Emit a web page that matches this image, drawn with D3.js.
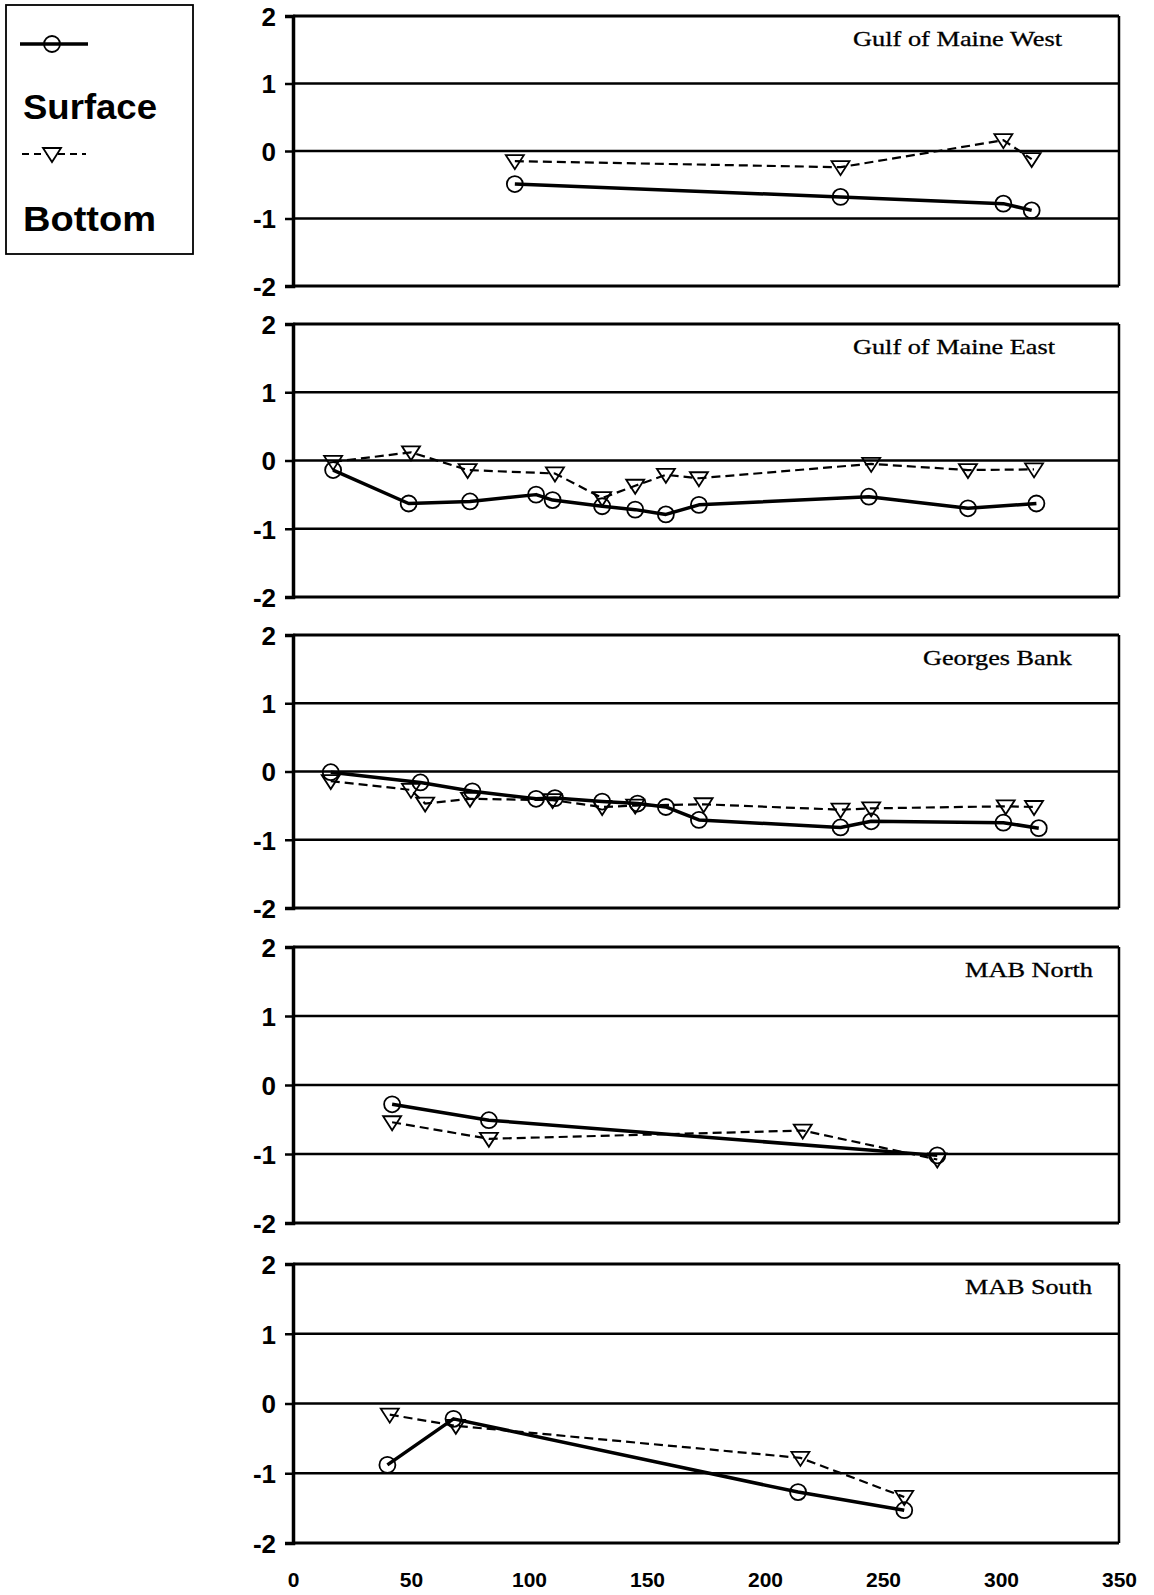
<!DOCTYPE html>
<html><head><meta charset="utf-8">
<script src="https://cdn.jsdelivr.net/npm/d3@7"></script>
<style>body{margin:0;background:#fff} svg{display:block}</style>
</head><body>
<svg id="c" width="1154" height="1595"></svg>
<script>
// ---------- data ----------
const regions = ["Gulf of Maine West","Gulf of Maine East","Georges Bank","MAB North","MAB South"];
const xTicks = [0,50,100,150,200,250,300,350];
const yTicks = [2,1,0,-1,-2];
const seriesNames = ["Surface","Bottom"];

const surfaceGMW = [[94,-0.49],[232,-0.68],[301,-0.78],[313,-0.88]];
const bottomGMW  = [[94,-0.15],[232,-0.24],[301,0.16],[313,-0.12]];
const surfaceGME = [[17,-0.14],[49,-0.63],[75,-0.60],[103,-0.50],[110,-0.58],[131,-0.67],[145,-0.72],[158,-0.79],[172,-0.65],[244,-0.53],[286,-0.70],[315,-0.63]];
const bottomGME  = [[17,-0.02],[50,0.12],[74,-0.14],[111,-0.19],[131,-0.55],[145,-0.37],[158,-0.21],[172,-0.26],[245,-0.05],[286,-0.14],[314,-0.13]];
const surfaceGB  = [[16,-0.01],[54,-0.16],[76,-0.29],[103,-0.40],[111,-0.39],[131,-0.44],[146,-0.47],[158,-0.52],[172,-0.71],[232,-0.82],[245,-0.73],[301,-0.75],[316,-0.83]];
const bottomGB   = [[16,-0.14],[50,-0.27],[56,-0.47],[75,-0.40],[110,-0.42],[131,-0.52],[145,-0.50],[174,-0.48],[232,-0.56],[245,-0.54],[302,-0.51],[314,-0.52]];
const surfaceMABN = [[42,-0.28],[83,-0.51],[273,-1.02]];
const bottomMABN  = [[42,-0.54],[83,-0.78],[216,-0.66],[273,-1.08]];
const surfaceMABS = [[40,-0.88],[68,-0.22],[214,-1.27],[259,-1.53]];
const bottomMABS  = [[41,-0.16],[69,-0.32],[215,-0.78],[259,-1.34]];

const surfaceAll = [surfaceGMW, surfaceGME, surfaceGB, surfaceMABN, surfaceMABS];
const bottomAll  = [bottomGMW, bottomGME, bottomGB, bottomMABN, bottomMABS];

// ---------- layout ----------
const panelTop    = [16, 324, 635, 947, 1264];
const panelBottom = [286, 597, 908, 1223, 1543];
const titleRight  = [1062, 1055, 1072, 1093, 1092];
const titleWidth  = [209, 202, 149, 128, 127];
const plotLeft = 293, plotRight = 1119;

const svg = d3.select("#c");
const x = d3.scaleLinear().domain([0,350]).range([plotLeft, plotRight]);
const sansBold = "'Liberation Sans', Arial, sans-serif";

const circleR = 8;
const triPath = "M-9,-6 L9,-6 L0,8 Z";

regions.forEach((name, i) => {
  const y = d3.scaleLinear().domain([-2,2]).range([panelBottom[i], panelTop[i]]);
  const g = svg.append("g");

  // gridlines
  g.selectAll("line.grid").data([1,0,-1]).join("line")
    .attr("x1", plotLeft).attr("x2", plotRight)
    .attr("y1", d => y(d)).attr("y2", d => y(d))
    .attr("stroke", "#000").attr("stroke-width", 2.4);

  // frame
  g.append("line").attr("x1", plotLeft).attr("x2", plotRight).attr("y1", y(2)).attr("y2", y(2))
    .attr("stroke","#000").attr("stroke-width",3);
  g.append("line").attr("x1", plotLeft).attr("x2", plotRight).attr("y1", y(-2)).attr("y2", y(-2))
    .attr("stroke","#000").attr("stroke-width",3);
  g.append("line").attr("x1", plotRight).attr("x2", plotRight).attr("y1", y(2)).attr("y2", y(-2))
    .attr("stroke","#000").attr("stroke-width",2.5);

  // y axis
  const yAxis = d3.axisLeft(y).tickValues(yTicks).tickSize(8).tickPadding(9)
    .tickFormat(d => String(d));
  const ya = g.append("g").attr("transform", `translate(${plotLeft},0)`).call(yAxis);
  ya.select(".domain").attr("stroke","#000").attr("stroke-width",3.5);
  ya.selectAll(".tick line").attr("stroke","#000").attr("stroke-width",2.5);
  ya.selectAll(".tick text").attr("fill","#000").attr("font-family", sansBold)
    .attr("font-weight","bold").attr("font-size", 26).attr("dy","0.36em");

  // title
  g.append("text").attr("x", titleRight[i]).attr("y", panelTop[i] + 30)
    .attr("text-anchor","end")
    .attr("font-family","'Liberation Serif','Times New Roman',serif")
    .attr("font-size", 21).attr("fill","#000")
    .attr("textLength", titleWidth[i]).attr("lengthAdjust","spacingAndGlyphs")
    .attr("stroke","#000").attr("stroke-width",0.3)
    .text(name);

  const line = d3.line().x(d => x(d[0])).y(d => y(d[1]));

  // bottom (dashed)
  g.append("path").datum(bottomAll[i]).attr("d", line)
    .attr("fill","none").attr("stroke","#000").attr("stroke-width",2.2)
    .attr("stroke-dasharray","9,5");
  // surface (solid)
  g.append("path").datum(surfaceAll[i]).attr("d", line)
    .attr("fill","none").attr("stroke","#000").attr("stroke-width",3.5)
    .attr("stroke-linejoin","round");

  // markers
  g.selectAll("circle.s").data(surfaceAll[i]).join("circle")
    .attr("cx", d => x(d[0])).attr("cy", d => y(d[1])).attr("r", circleR)
    .attr("fill","none").attr("stroke","#000").attr("stroke-width",1.8);
  g.selectAll("path.b").data(bottomAll[i]).join("path")
    .attr("d", triPath)
    .attr("transform", d => `translate(${x(d[0])},${y(d[1])})`)
    .attr("fill","none").attr("stroke","#000").attr("stroke-width",1.8);
});

// x axis labels (bottom panel only)
const xa = svg.append("g").attr("transform", `translate(0,${panelBottom[4]})`)
  .call(d3.axisBottom(x).tickValues(xTicks).tickSize(0).tickPadding(29).tickFormat(d => String(d)));
xa.select(".domain").remove();
xa.selectAll(".tick text").attr("fill","#000").attr("font-family", sansBold)
  .attr("font-weight","bold").attr("font-size", 21);

// ---------- legend ----------
const lg = svg.append("g");
lg.append("rect").attr("x",6).attr("y",5).attr("width",187).attr("height",249)
  .attr("fill","none").attr("stroke","#000").attr("stroke-width",1.8);
// surface sample
lg.append("line").attr("x1",20).attr("x2",88).attr("y1",44).attr("y2",44)
  .attr("stroke","#000").attr("stroke-width",3.5);
lg.append("circle").attr("cx",52).attr("cy",44).attr("r",circleR)
  .attr("fill","none").attr("stroke","#000").attr("stroke-width",1.8);
lg.append("text").attr("x",23).attr("y",119).attr("font-family",sansBold)
  .attr("font-weight","bold").attr("font-size",35).attr("fill","#000")
  .attr("textLength",134).attr("lengthAdjust","spacingAndGlyphs").text(seriesNames[0]);
// bottom sample
lg.append("line").attr("x1",22).attr("x2",86).attr("y1",154).attr("y2",154)
  .attr("stroke","#000").attr("stroke-width",2.2).attr("stroke-dasharray","7,5");
lg.append("path").attr("d", triPath).attr("transform","translate(52,154)")
  .attr("fill","#fff").attr("stroke","#000").attr("stroke-width",1.8);
lg.append("text").attr("x",23).attr("y",231).attr("font-family",sansBold)
  .attr("font-weight","bold").attr("font-size",35).attr("fill","#000")
  .attr("textLength",133).attr("lengthAdjust","spacingAndGlyphs").text(seriesNames[1]);
</script>
</body></html>
